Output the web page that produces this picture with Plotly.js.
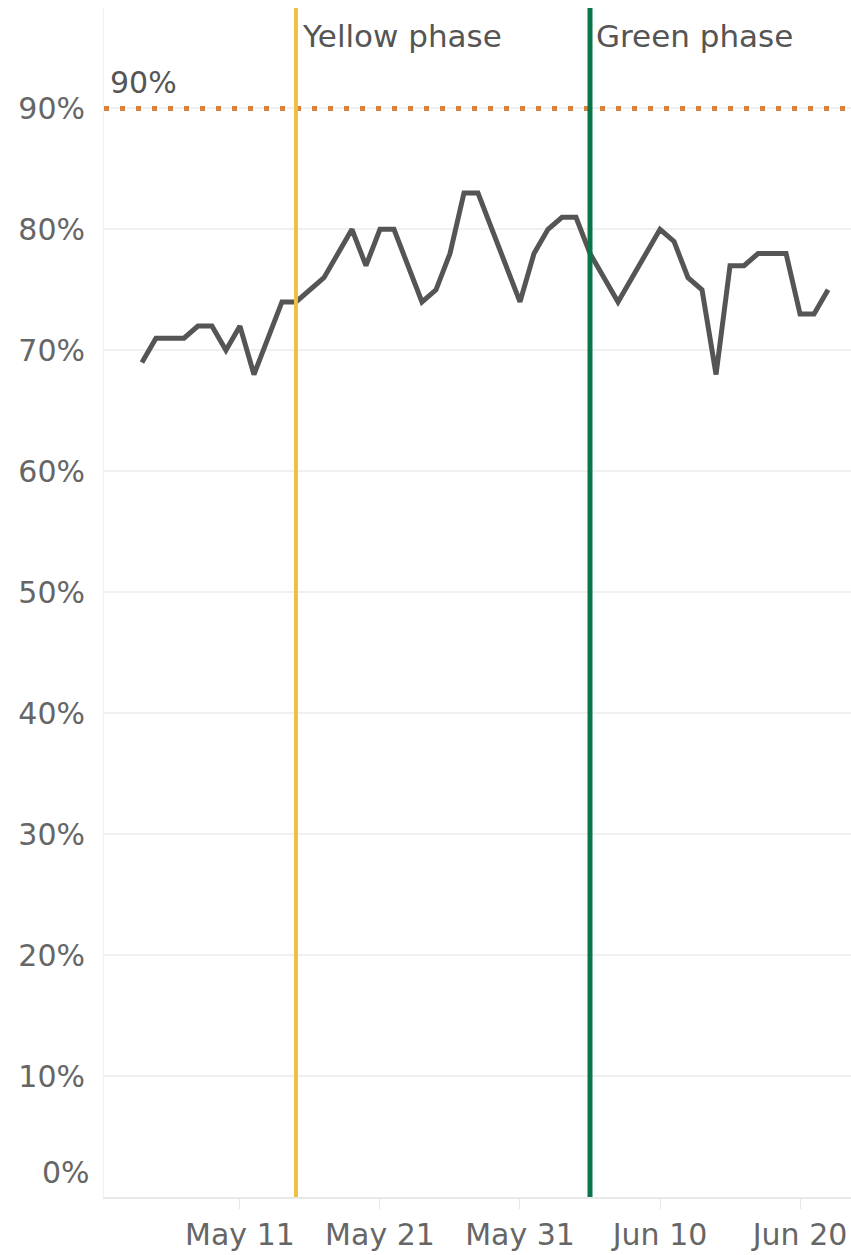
<!DOCTYPE html>
<html>
<head>
<meta charset="utf-8">
<script src="https://cdn.plot.ly/plotly-3.0.1.min.js"></script>
<style>
html,body{margin:0;padding:0;background:#fff;}
#chart{width:851px;height:1255px;}
</style>
</head>
<body>
<div id="chart"></div>
<script>
// Data (share of ... per day)
const dates = [
  '2020-05-04','2020-05-05','2020-05-06','2020-05-07','2020-05-08','2020-05-09','2020-05-10',
  '2020-05-11','2020-05-12','2020-05-13','2020-05-14','2020-05-15','2020-05-16','2020-05-17',
  '2020-05-18','2020-05-19','2020-05-20','2020-05-21','2020-05-22','2020-05-23','2020-05-24',
  '2020-05-25','2020-05-26','2020-05-27','2020-05-28','2020-05-29','2020-05-30','2020-05-31',
  '2020-06-01','2020-06-02','2020-06-03','2020-06-04','2020-06-05','2020-06-06','2020-06-07',
  '2020-06-08','2020-06-09','2020-06-10','2020-06-11','2020-06-12','2020-06-13','2020-06-14',
  '2020-06-15','2020-06-16','2020-06-17','2020-06-18','2020-06-19','2020-06-20','2020-06-21',
  '2020-06-22'
];
const values = [
  0.69,0.71,0.71,0.71,0.72,0.72,0.70,
  0.72,0.68,0.71,0.74,0.74,0.75,0.76,
  0.78,0.80,0.77,0.80,0.80,0.77,0.74,
  0.75,0.78,0.83,0.83,0.80,0.77,0.74,
  0.78,0.80,0.81,0.81,0.78,0.76,0.74,
  0.76,0.78,0.80,0.79,0.76,0.75,0.68,
  0.77,0.77,0.78,0.78,0.78,0.73,0.73,
  0.75
];
const tickDates = ['2020-05-11','2020-05-21','2020-05-31','2020-06-10','2020-06-20'];
const tickLabels = ['May 11','May 21','May 31','Jun 10','Jun 20'];
const yTicks = [0.1,0.2,0.3,0.4,0.5,0.6,0.7,0.8,0.9];
const targetValue = 0.9;
const targetLabel = '90%';
const phaseDates = ['2020-05-15','2020-06-05'];
const phaseLabels = ['Yellow phase','Green phase'];
const phaseColors = ['#EDC13F','#08764A'];
const phaseWidths = [4,5];

const FONT = 'DejaVu Sans, sans-serif';

const trace = {
  x: dates, y: values, type: 'scatter', mode: 'lines',
  line: {color: '#555555', width: 5},
  hoverinfo: 'skip'
};

const shapes = [
  {type:'line', xref:'paper', x0:0, x1:1, yref:'y', y0:targetValue, y1:targetValue,
   line:{color:'#D8823F', width:5, dash:'5px,11px'}}
];
phaseDates.forEach((d,i)=>{
  shapes.push({type:'line', xref:'x', x0:d, x1:d, yref:'paper', y0:0, y1:1,
    line:{color:phaseColors[i], width:phaseWidths[i]}});
});

const annotations = [
  {xref:'paper', x:0, xanchor:'left', xshift:4, yref:'y', y:targetValue, yanchor:'bottom', yshift:6,
   text:targetLabel, showarrow:false, font:{family:FONT, size:30, color:'#555555'}},
  {xref:'paper', x:0, xanchor:'right', xshift:-12, yref:'y', y:0, yanchor:'bottom', yshift:5,
   text:'0%', showarrow:false, font:{family:FONT, size:30, color:'#666666'}}
];
phaseDates.forEach((d,i)=>{
  annotations.push({xref:'x', x:d, xanchor:'left', xshift:4, yref:'paper', y:1, yanchor:'top', yshift:-8,
    text:phaseLabels[i], showarrow:false, font:{family:FONT, size:31, color:'#555555'}});
});

const layout = {
  width: 851, height: 1255,
  margin: {l:104, r:0, t:8, b:58, pad:0},
  paper_bgcolor:'#ffffff', plot_bgcolor:'#ffffff',
  showlegend:false,
  xaxis: {
    type:'date',
    range:['2020-05-01 07:00','2020-06-23 15:20'],
    tickvals: tickDates, ticktext: tickLabels,
    ticks:'outside', ticklen:10, tickwidth:1, tickcolor:'#e6e6e6',
    tickfont:{family:FONT, size:30, color:'#666666'},
    showgrid:false, zeroline:false,
    showline:true, linecolor:'#e8e8e8', linewidth:2,
    fixedrange:true
  },
  yaxis: {
    range:[0, 0.983],
    tickvals: yTicks, tickformat:'.0%',
    ticks:'', ticklabelstandoff:12,
    tickfont:{family:FONT, size:30, color:'#666666'},
    showgrid:true, gridcolor:'#f0f0f0', gridwidth:2,
    zeroline:false,
    showline:true, linecolor:'#f0f0f0', linewidth:1,
    fixedrange:true
  },
  shapes: shapes,
  annotations: annotations
};

Plotly.newPlot('chart', [trace], layout, {displayModeBar:false, staticPlot:true});
</script>
</body>
</html>
